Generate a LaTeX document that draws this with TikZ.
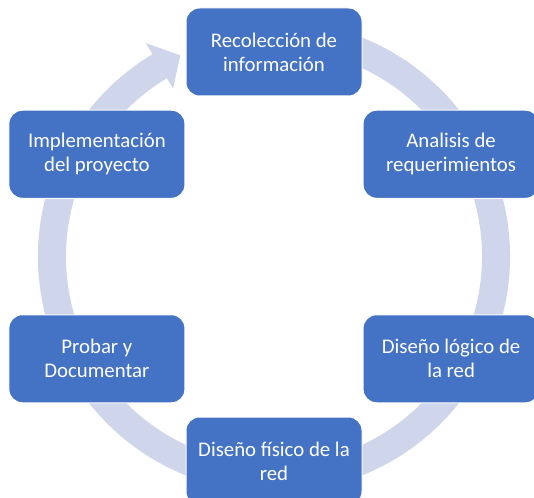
\documentclass[tikz,border=0pt]{standalone}
\usepackage{fontspec}
\setmainfont{Carlito}
\usetikzlibrary{calc}

\definecolor{stageblue}{HTML}{4472C4}
\definecolor{ringgray}{HTML}{CFD5EA}

\tikzset{
	stage/.style={rectangle, rounded corners=10pt, fill=stageblue, draw=white,
		line width=0.75pt, text=white, minimum width=132pt, minimum height=66pt,
		align=center, inner sep=0pt, font=\fontsize{15.6}{18}\selectfont}
}

\begin{document}
\begin{tikzpicture}[x=0.75pt,y=0.75pt]
\useasboundingbox (0,0) rectangle (534,497);

\def\cycradius{204.5}

\def\ringin{208}
\def\ringout{236}
\def\wingin{196}
\def\wingout{249}
\def\tipradius{222}

\def\tailangle{75}
\def\baseangle{-239}
\def\tipangle{-245}

\coordinate (m) at (274,240.5);

% ring with arrow
\fill[ringgray]
	($ (m) + (\tailangle:\ringout) $)
	arc[start angle=\tailangle, end angle=\baseangle, radius=\ringout]
	-- ($ (m) + (\baseangle:\wingout) $)
	-- ($ (m) + (\tipangle:\tipradius) $)
	-- ($ (m) + (\baseangle:\wingin) $)
	-- ($ (m) + (\baseangle:\ringin) $)
	arc[start angle=\baseangle, end angle=\tailangle, radius=\ringin]
	-- cycle
;

% stages
\node[stage] (recol)    at ($ (m) + (90:\cycradius) $)   {Recolección de\\información};
\node[stage] (analisis) at ($ (m) + (30:\cycradius) $)   {Analisis de\\requerimientos};
\node[stage] (logico)   at ($ (m) + (-30:\cycradius) $)  {Diseño lógico de\\la red};
\node[stage] (fisico)   at ($ (m) + (-90:\cycradius) $)  {Diseño físico de la\\red};
\node[stage] (probar)   at ($ (m) + (-150:\cycradius) $) {Probar y\\Documentar};
\node[stage] (implem)   at ($ (m) + (150:\cycradius) $)  {Implementación\\del proyecto};

\end{tikzpicture}
\end{document}
